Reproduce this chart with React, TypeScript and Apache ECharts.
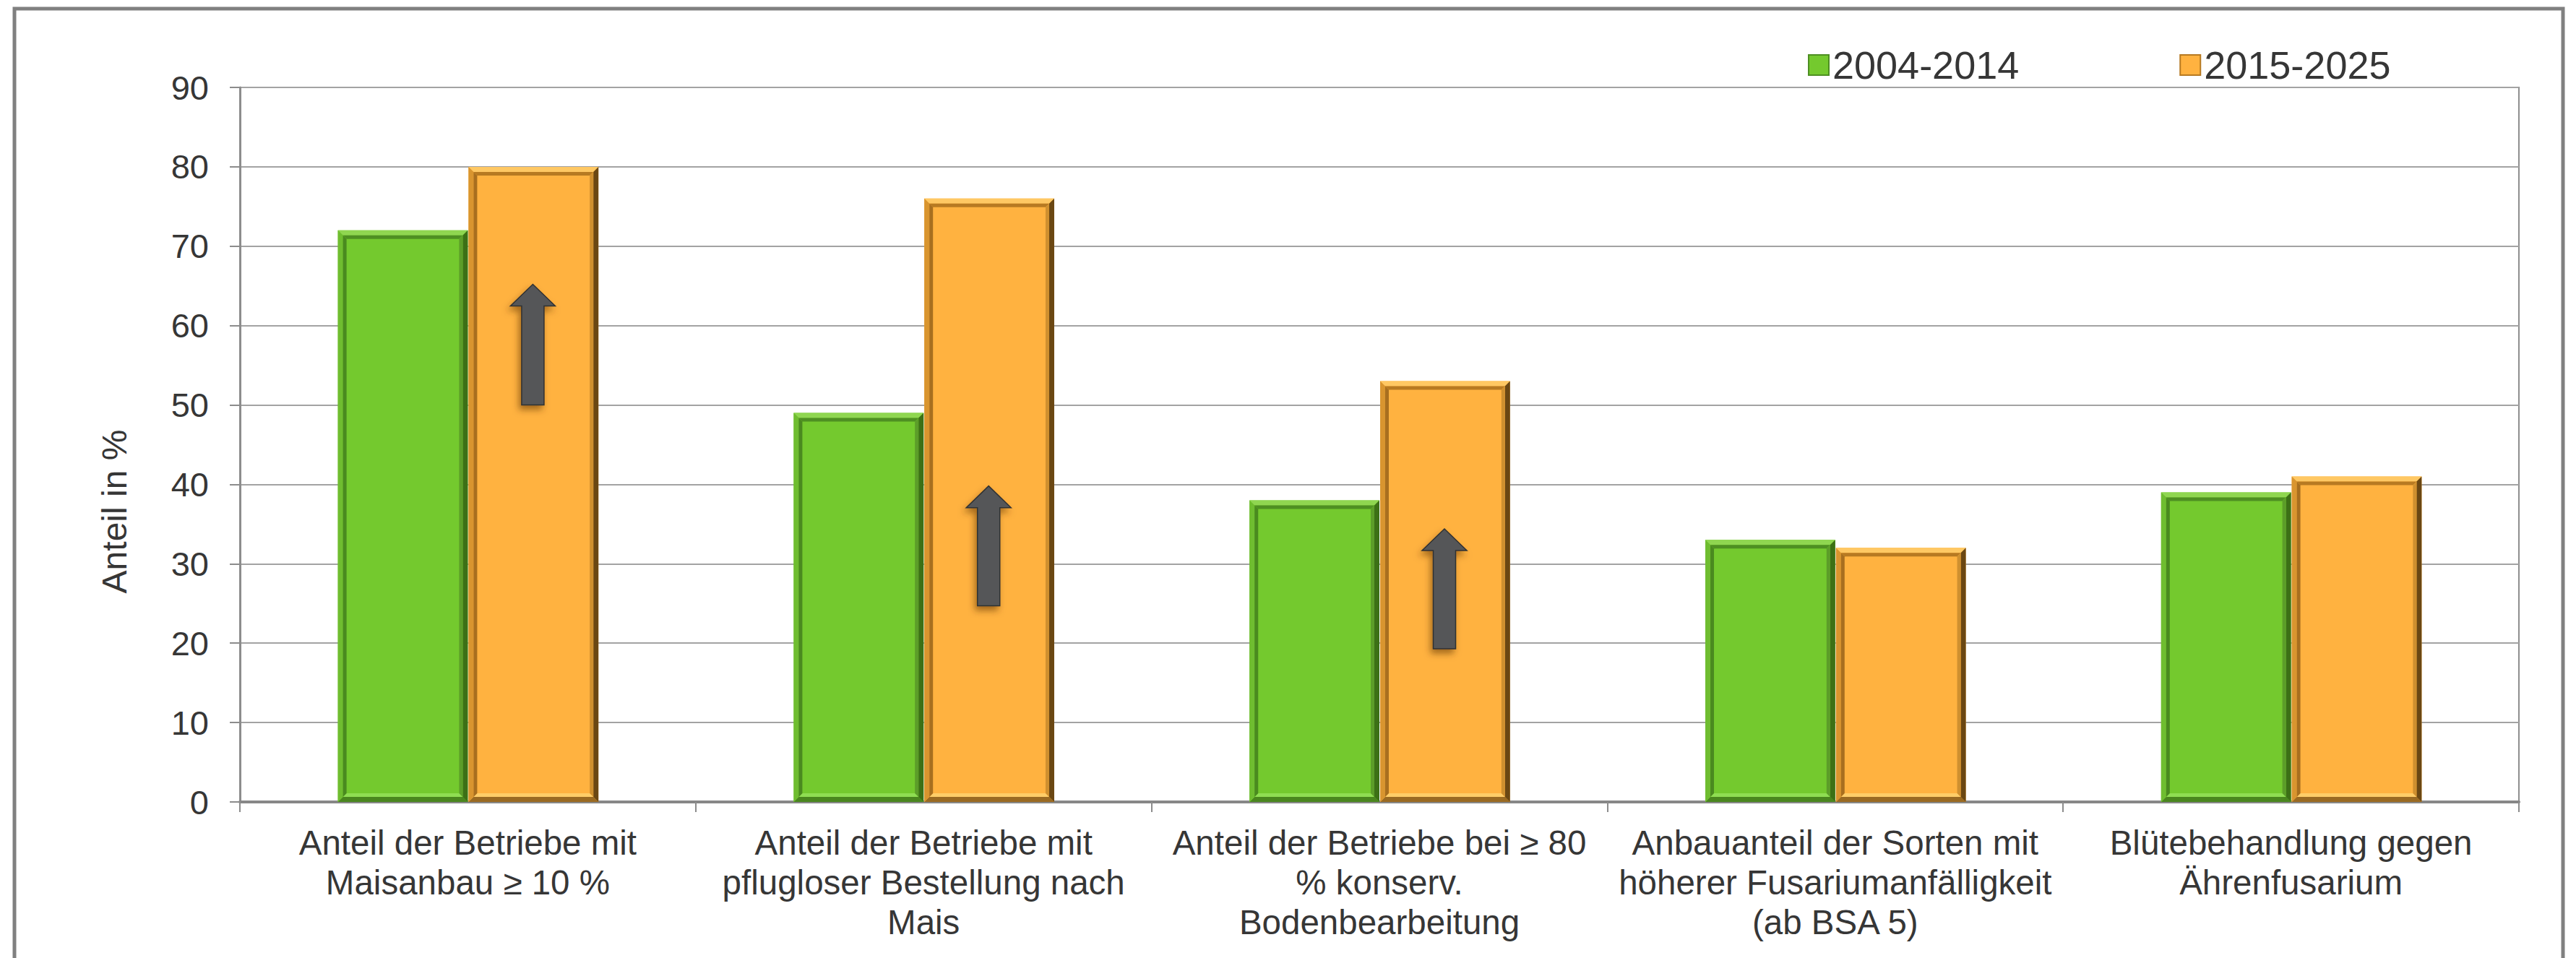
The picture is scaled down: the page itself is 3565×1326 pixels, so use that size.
import React, { useEffect, useRef } from "react";
import * as echarts from "echarts";

// Category labels (x axis)
const categories = [
  "Anteil der Betriebe mit\nMaisanbau ≥ 10 %",
  "Anteil der Betriebe mit\npflugloser Bestellung nach\nMais",
  "Anteil der Betriebe bei ≥ 80\n% konserv.\nBodenbearbeitung",
  "Anbauanteil der Sorten mit\nhöherer Fusariumanfälligkeit\n(ab BSA 5)",
  "Blütebehandlung gegen\nÄhrenfusarium",
];

// Series names
const seriesNames = ["2004-2014", "2015-2025"];

// Share in % per period
const period2004to2014 = [72, 49, 38, 33, 39];
const period2015to2025 = [80, 76, 53, 32, 41];

// Upward trend arrows: [category index, start value, tip value]
const trendArrows = [
  [0, 50, 65.2],
  [1, 24.7, 39.8],
  [2, 19.3, 34.4],
];

const FONT = '"Liberation Sans", Arial, Helvetica, sans-serif';
const TEXT = "#363636";

// Bar width as a fraction of the category band
const BAR_FRAC = 0.285;

type Palette = {
  main: string;
  outerTop: string;
  outerLeft: string;
  outerRight: string;
  outerBottom: string;
  innerTop: string;
  innerLeft: string;
  innerRight: string;
  innerBottom: string;
};

const greenPalette: Palette = {
  main: "#74c92e",
  outerTop: "#8fd650",
  outerLeft: "#6fbd30",
  outerRight: "#3c7016",
  outerBottom: "#4a861e",
  innerTop: "#4e8f22",
  innerLeft: "#4a8a1f",
  innerRight: "#5c9d29",
  innerBottom: "#8fdd52",
};

const orangePalette: Palette = {
  main: "#ffb240",
  outerTop: "#ffc863",
  outerLeft: "#d9952f",
  outerRight: "#6a4713",
  outerBottom: "#9a6a22",
  innerTop: "#b77a22",
  innerLeft: "#a86f1f",
  innerRight: "#cf902f",
  innerBottom: "#ffcd68",
};

// Beveled bar drawn from the value and the category band
function bevelBar(side: number, pal: Palette) {
  return (_params: any, api: any) => {
    const cat = api.value(0);
    const val = api.value(1);
    const base = api.coord([cat, 0]);
    const top = api.coord([cat, val]);
    const band = api.size([1, 0])[0];
    const w = band * BAR_FRAC;
    const x = side === 0 ? base[0] - w : base[0] + 1;
    const y = top[1];
    const h = base[1] - top[1];
    const o = 7;
    const i = 5;
    const poly = (pts: number[][], fill: string) => ({
      type: "polygon",
      shape: { points: pts },
      style: { fill },
    });
    const x2 = x + w;
    const y2 = y + h;
    return {
      type: "group",
      children: [
        { type: "rect", shape: { x, y, width: w, height: h }, style: { fill: pal.main } },
        // outer bevel
        poly([[x, y], [x2, y], [x2 - o, y + o], [x + o, y + o]], pal.outerTop),
        poly([[x, y2], [x2, y2], [x2 - o, y2 - o], [x + o, y2 - o]], pal.outerBottom),
        poly([[x, y], [x + o, y + o], [x + o, y2 - o], [x, y2]], pal.outerLeft),
        poly([[x2, y], [x2 - o, y + o], [x2 - o, y2 - o], [x2, y2]], pal.outerRight),
        // inner bevel
        poly(
          [[x + o, y + o], [x2 - o, y + o], [x2 - o - i, y + o + i], [x + o + i, y + o + i]],
          pal.innerTop
        ),
        poly(
          [[x + o, y2 - o], [x2 - o, y2 - o], [x2 - o - i, y2 - o - i], [x + o + i, y2 - o - i]],
          pal.innerBottom
        ),
        poly(
          [[x + o, y + o], [x + o + i, y + o + i], [x + o + i, y2 - o - i], [x + o, y2 - o]],
          pal.innerLeft
        ),
        poly(
          [[x2 - o, y + o], [x2 - o - i, y + o + i], [x2 - o - i, y2 - o - i], [x2 - o, y2 - o]],
          pal.innerRight
        ),
      ],
    };
  };
}

// Block arrow placed over the second bar of a category
function arrowItem(_params: any, api: any) {
  const cat = api.value(0);
  const from = api.value(1);
  const to = api.value(2);
  const p0 = api.coord([cat, from]);
  const p1 = api.coord([cat, to]);
  const band = api.size([1, 0])[0];
  const cx = p0[0] + band * 0.1427;
  const sw = 15.5;
  const hw = 31;
  const hh = 30;
  const y0 = p0[1];
  const y1 = p1[1];
  return {
    type: "polygon",
    shape: {
      points: [
        [cx - sw, y0],
        [cx + sw, y0],
        [cx + sw, y1 + hh],
        [cx + hw, y1 + hh],
        [cx, y1],
        [cx - hw, y1 + hh],
        [cx - sw, y1 + hh],
      ],
    },
    style: {
      fill: "#555759",
      stroke: "#2f3032",
      lineWidth: 1.5,
      shadowBlur: 10,
      shadowOffsetX: -3,
      shadowOffsetY: 6,
      shadowColor: "rgba(90,50,0,0.55)",
    },
  };
}

export default function App() {
  const ref = useRef<HTMLDivElement>(null);

  useEffect(() => {
    if (!ref.current) return;
    const chart = echarts.init(ref.current, null, { renderer: "svg" });
    chart.setOption({
      animation: false,
      backgroundColor: "#ffffff",
      textStyle: { fontFamily: FONT },
      grid: {
        left: 332,
        right: 79,
        top: 121,
        bottom: 216,
        show: true,
        borderColor: "#8f8f8f",
        borderWidth: 2,
        containLabel: false,
        outerBoundsMode: "none",
      },
      legend: {
        data: [
          { name: seriesNames[0], icon: "rect" },
          { name: seriesNames[1], icon: "rect" },
        ],
        left: 2497,
        top: 58,
        itemWidth: 28,
        itemHeight: 28,
        itemGap: 222,
        textStyle: {
          fontSize: 54,
          color: TEXT,
          fontFamily: FONT,
          padding: [0, 0, 0, 0],
        },
      },
      xAxis: {
        type: "category",
        data: categories,
        axisLine: { show: true, lineStyle: { color: "#878787", width: 4 } },
        axisTick: {
          show: true,
          interval: 0,
          alignWithLabel: false,
          length: 14,
          lineStyle: { color: "#8c8c8c", width: 2 },
        },
        axisLabel: {
          interval: 0,
          margin: 29,
          fontSize: 47.5,
          lineHeight: 55,
          color: TEXT,
          fontFamily: FONT,
        },
        splitLine: { show: false },
      },
      yAxis: {
        type: "value",
        min: 0,
        max: 90,
        interval: 10,
        axisLine: { show: true, lineStyle: { color: "#8c8c8c", width: 3 } },
        axisTick: { show: true, length: 14, lineStyle: { color: "#8c8c8c", width: 2 } },
        axisLabel: { fontSize: 47, margin: 43, color: TEXT, fontFamily: FONT },
        splitLine: { show: true, lineStyle: { color: "#a3a3a3", width: 2 } },
      },
      graphic: [
        {
          type: "rect",
          silent: true,
          z: -10,
          shape: { x: 20, y: 12, width: 3527, height: 1400 },
          style: { fill: "none", stroke: "#808080", lineWidth: 5 },
        },
        {
          type: "text",
          x: 158,
          y: 708,
          rotation: Math.PI / 2,
          style: {
            text: "Anteil in %",
            font: `48px ${FONT}`,
            fill: TEXT,
            textAlign: "center",
            textVerticalAlign: "middle",
          },
        },
      ],
      series: [
        {
          name: seriesNames[0],
          type: "custom",
          renderItem: bevelBar(0, greenPalette),
          itemStyle: { color: greenPalette.main, borderColor: greenPalette.innerTop, borderWidth: 2 },
          encode: { x: 0, y: 1 },
          data: period2004to2014.map((v, i) => [i, v]),
          z: 2,
        },
        {
          name: seriesNames[1],
          type: "custom",
          renderItem: bevelBar(1, orangePalette),
          itemStyle: { color: orangePalette.main, borderColor: orangePalette.innerTop, borderWidth: 2 },
          encode: { x: 0, y: 1 },
          data: period2015to2025.map((v, i) => [i, v]),
          z: 2,
        },
        {
          name: "trend",
          type: "custom",
          renderItem: arrowItem,
          encode: { x: 0, y: [1, 2] },
          data: trendArrows,
          z: 5,
          silent: true,
        },
      ],
    });
    return () => chart.dispose();
  }, []);

  return (
    <div
      ref={ref}
      style={{ position: "fixed", left: 0, top: 0, width: 3565, height: 1326 }}
    />
  );
}
